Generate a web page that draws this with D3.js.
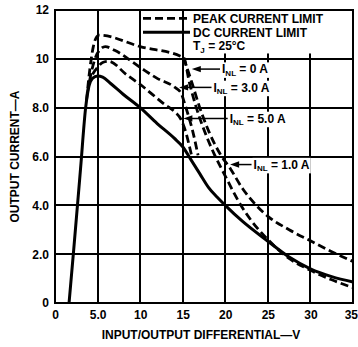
<!DOCTYPE html>
<html><head><meta charset="utf-8">
<script src="https://cdn.jsdelivr.net/npm/d3@7"></script>
<style>
html,body{margin:0;padding:0;background:#fff;}
svg{display:block;}
text{font-family:"Liberation Sans",Arial,Helvetica,sans-serif;font-weight:bold;fill:#000;}
</style></head><body>
<svg id="chart" width="358" height="347"></svg>
<script>
// ---- data (V, A) ----
const xTicks = [0, 5, 10, 15, 20, 25, 30, 35];
const xTickLabels = ["0", "5.0", "10", "15", "20", "25", "30", "35"];
const yTicks = [0, 2, 4, 6, 8, 10, 12];
const yTickLabels = ["0", "2.0", "4.0", "6.0", "8.0", "10", "12"];

const dcLimit = [[1.65,0],[2.2,2.2],[3.0,5.5],[3.6,8.0],[4.0,8.9],[4.4,9.2],[5.0,9.3],[5.6,9.25],[6.5,9.0],[8,8.55],[10,8.0],[12,7.35],[14,6.75],[15,6.4],[16,5.85],[17,5.3],[18,4.75],[19,4.35],[20,4.0],[22,3.35],[25,2.53],[27.5,1.88],[30,1.4],[32.5,1.08],[35,0.86]];
const peakINL0 = [[3.7,8.3],[4.1,9.6],[4.5,10.5],[4.9,10.9],[5.2,10.97],[10,10.5],[15.1,10.05],[15.8,9.0],[16.6,8.0],[17.6,7.0],[18.7,6.1],[20,5.2],[21.5,4.2],[23,3.4],[25,2.6],[27.4,1.85],[30,1.34],[32.5,0.95],[35,0.63]];
const peakINL1 = [[15.1,10.05],[16.1,9.0],[17.0,8.0],[18.1,7.0],[19.4,6.1],[20.6,5.5],[22,4.7],[23.5,4.05],[25,3.55],[27.5,3.0],[30,2.55],[32.5,2.1],[35,1.7]];
const peakINL3 = [[3.8,8.6],[4.3,9.5],[4.8,10.1],[5.3,10.38],[5.9,10.5],[7,10.35],[10,9.65],[12,9.2],[14,8.85],[14.8,8.6],[15.2,8.2],[15.6,7.75],[16.2,7.0],[16.8,6.05]];
const peakINL5 = [[3.9,8.9],[4.4,9.35],[5.0,9.65],[5.6,9.85],[6.3,9.9],[8.4,9.35],[10,8.95],[13,8.1],[14,7.85],[14.9,7.45],[15.4,6.95],[15.8,6.4],[16.1,5.95]];

const legendLabels = ["PEAK CURRENT LIMIT", "DC CURRENT LIMIT"];
const annoLoad = ["0 A", "3.0 A", "5.0 A", "1.0 A"];
// arrow tip [V, A] and label start V
const annoTip = [[16.07,9.58],[14.58,8.83],[15.08,7.56],[20.57,5.67]];
const annoStart = [19.5, 18.5, 20.4, 23.2];

// ---- layout ----
const svg = d3.select("#chart");
const x = d3.scaleLinear().domain([0, 35]).range([55, 353]);
const y = d3.scaleLinear().domain([0, 12]).range([303, 10]);
const rx = d => Math.round(x(d)), ry = d => Math.round(y(d));

// grid
const g = svg.append("g");
g.selectAll(".vg").data(xTicks).join("line")
  .attr("x1", d => rx(d)).attr("x2", d => rx(d)).attr("y1", ry(0)).attr("y2", ry(12))
  .attr("stroke", "#000").attr("stroke-width", 2);
g.selectAll(".hg").data(yTicks).join("line")
  .attr("x1", rx(0)).attr("x2", rx(35)).attr("y1", d => ry(d)).attr("y2", d => ry(d))
  .attr("stroke", "#000").attr("stroke-width", 2);

// legend knock-out box
svg.append("rect").attr("x", x(15.9)).attr("y", ry(12) + 1)
  .attr("width", rx(35) - x(15.9) - 1).attr("height", y(10.22) - ry(12) - 1).attr("fill", "#fff");

// axes tick labels
const xAxis = d3.axisBottom(x).tickValues(xTicks).tickSize(0).tickPadding(7)
  .tickFormat((d, i) => xTickLabels[i]);
const xa = svg.append("g").attr("transform", `translate(0,${ry(0)})`).call(xAxis);
xa.select(".domain").remove();
xa.selectAll("text").attr("font-size", 12).attr("font-family", null).style("font-weight", "bold");
xa.selectAll(".tick").filter(d => d === 35).select("text").attr("text-anchor", "end").attr("x", 357.5 - x(35));

const yAxis = d3.axisLeft(y).tickValues(yTicks).tickSize(0).tickPadding(6)
  .tickFormat((d, i) => yTickLabels[i]);
const ya = svg.append("g").attr("transform", `translate(${rx(0)},0)`).call(yAxis);
ya.select(".domain").remove();
ya.selectAll("text").attr("font-size", 12).attr("font-family", null).style("font-weight", "bold");

// axis titles
svg.append("text").attr("x", 201).attr("y", 339).attr("text-anchor", "middle")
  .attr("font-size", 12).text("INPUT/OUTPUT DIFFERENTIAL\u2014V");
svg.append("text").attr("transform", "translate(19,156.5) rotate(-90)").attr("text-anchor", "middle")
  .attr("font-size", 12).text("OUTPUT CURRENT\u2014A");

// annotation labels (with white knockouts)
const annoG = svg.append("g");
annoLoad.forEach((lab, i) => {
  const ty = y(annoTip[i][1]);
  const t = annoG.append("text").attr("x", x(annoStart[i]) + 1).attr("y", ty + 4.3).attr("font-size", 12);
  t.append("tspan").text("I");
  t.append("tspan").attr("font-size", 8).attr("dy", 2.5).text("NL");
  t.append("tspan").attr("dy", -2.5).text(" = " + lab);
  const bb = t.node().getBBox();
  annoG.insert("rect", "text").attr("x", bb.x - 1).attr("y", bb.y).attr("width", bb.width + 2).attr("height", bb.height)
    .attr("fill", "#fff");
});

// curves
const line = d3.line().x(d => x(d[0])).y(d => y(d[1])).curve(d3.curveMonotoneX);
const cg = svg.append("g").attr("fill", "none").attr("stroke", "#000");
[peakINL0, peakINL1, peakINL3, peakINL5].forEach(s => {
  cg.append("path").attr("d", line(s)).attr("stroke-width", 2.8).attr("stroke-dasharray", "8,4");
});
cg.append("path").attr("d", line(dcLimit)).attr("stroke-width", 3);

// border
svg.append("rect").attr("x", rx(0)).attr("y", ry(12)).attr("width", rx(35) - rx(0)).attr("height", ry(0) - ry(12))
  .attr("fill", "none").attr("stroke", "#000").attr("stroke-width", 2);

// arrows
annoLoad.forEach((lab, i) => {
  const tx = x(annoTip[i][0]), ty = y(annoTip[i][1]);
  svg.append("line").attr("x1", tx + 6).attr("x2", x(annoStart[i]) - 1).attr("y1", ty).attr("y2", ty)
    .attr("stroke", "#000").attr("stroke-width", 1.5);
  svg.append("path").attr("d", `M${tx},${ty}L${tx + 9},${ty - 3.2}L${tx + 9},${ty + 3.2}Z`).attr("fill", "#000");
});

// legend
const lg = svg.append("g");
lg.append("line").attr("x1", 143).attr("x2", 190).attr("y1", 18.3).attr("y2", 18.3)
  .attr("stroke", "#000").attr("stroke-width", 2.8).attr("stroke-dasharray", "8,4");
lg.append("line").attr("x1", 143).attr("x2", 190).attr("y1", 32.3).attr("y2", 32.3)
  .attr("stroke", "#000").attr("stroke-width", 3);
lg.append("text").attr("x", 193).attr("y", 22.6).attr("font-size", 12).text(legendLabels[0]);
lg.append("text").attr("x", 193).attr("y", 36.6).attr("font-size", 12).text(legendLabels[1]);
const tj = lg.append("text").attr("x", 193).attr("y", 50).attr("font-size", 12);
tj.append("tspan").text("T");
tj.append("tspan").attr("font-size", 8).attr("dy", 2.5).text("J");
tj.append("tspan").attr("dy", -2.5).text(" = 25\u00B0C");
</script>
</body></html>
